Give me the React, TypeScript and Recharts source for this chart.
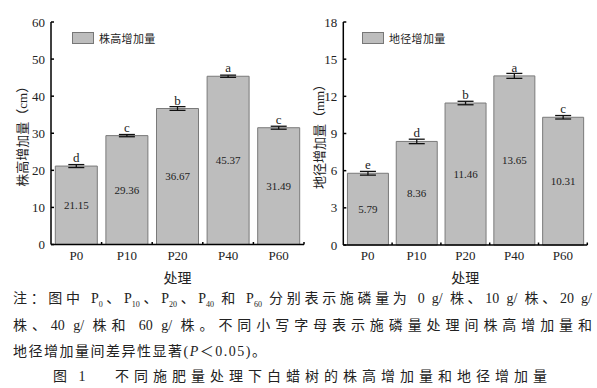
import { BarChart, Bar, XAxis, YAxis, ErrorBar, LabelList, Legend } from 'recharts';

const categories = ['P0', 'P10', 'P20', 'P40', 'P60'];
const heightGain = [21.15, 29.36, 36.67, 45.37, 31.49];
const heightErr = [0.4, 0.3, 0.5, 0.3, 0.4];
const heightSig = ['d', 'c', 'b', 'a', 'c'];
const diameterGain = [5.79, 8.36, 11.46, 13.65, 10.31];
const diameterErr = [0.15, 0.18, 0.14, 0.2, 0.14];
const diameterSig = ['e', 'd', 'b', 'a', 'c'];
const heightTicks = [0, 10, 20, 30, 40, 50, 60];
const diameterTicks = [0, 3, 6, 9, 12, 15, 18];

const heightData = categories.map((c, i) => ({ name: c, value: heightGain[i], err: heightErr[i], sig: heightSig[i] }));
const diameterData = categories.map((c, i) => ({ name: c, value: diameterGain[i], err: diameterErr[i], sig: diameterSig[i] }));

const SERIF = "'Liberation Serif', 'Times New Roman', 'Noto Sans CJK SC', serif";
const INK = '#222';

function XTick(props: any) {
  const { x, y, payload } = props;
  const axisY = y - 6;
  const bx = x + (payload.offset ?? 0);
  return (
    <g>
      <line x1={bx} y1={axisY} x2={bx} y2={axisY - 2.5} stroke="#000" strokeWidth={1.5} />
      <text x={x} y={y} dy="0.71em" textAnchor="middle" fontSize={13} fill={INK} fontFamily={SERIF}>
        {payload.value}
      </text>
    </g>
  );
}

function YTick(props: any) {
  const { x, y, payload } = props;
  const axisX = x + 6;
  return (
    <g>
      <line x1={axisX} y1={y} x2={axisX + 3} y2={y} stroke="#000" strokeWidth={1.5} />
      <text x={x} y={y} dy="0.355em" textAnchor="end" fontSize={13} fill={INK} fontFamily={SERIF}>
        {payload.value}
      </text>
    </g>
  );
}

function LegendBox({ payload }: any) {
  return (
    <div style={{ display: 'flex', alignItems: 'center' }}>
      {(payload || []).map((p: any) => (
        <div key={p.value} style={{ display: 'flex', alignItems: 'center' }}>
          <span style={{ display: 'inline-block', width: 20, height: 10, background: '#bdbdbd', border: '1px solid #777' }} />
          <span style={{ marginLeft: 5, fontSize: 11, color: INK, fontFamily: SERIF, letterSpacing: 0.3 }}>{p.value}</span>
        </div>
      ))}
    </div>
  );
}

interface PanelProps {
  data: typeof heightData;
  ticks: number[];
  max: number;
  yLabel: string;
  seriesName: string;
  width: number;
  margin: { top: number; right: number; bottom: number; left: number };
  legendLeft: number;
  labelOffset: number;
}

function Panel({ data, ticks, max, yLabel, seriesName, width, margin, legendLeft, labelOffset }: PanelProps) {
  return (
    <BarChart width={width} height={290} data={data} margin={margin} barCategoryGap="8.5%">
      <XAxis
        dataKey="name"
        height={38}
        tickLine={false}
        tickSize={4}
        tickMargin={2}
        axisLine={{ stroke: '#000', strokeWidth: 1.5 }}
        tick={<XTick />}
        label={{ value: '处理', position: 'insideBottom', offset: 0, fontSize: 14, fill: INK, fontFamily: SERIF }}
      />
      <YAxis
        type="number"
        domain={[0, max]}
        ticks={ticks}
        width={30}
        tickLine={false}
        tickSize={0}
        tickMargin={6}
        axisLine={{ stroke: '#000', strokeWidth: 1.5 }}
        tick={<YTick />}
        label={{
          value: yLabel,
          angle: -90,
          position: 'insideLeft',
          offset: labelOffset,
          fontSize: 13,
          fill: INK,
          fontFamily: SERIF,
          style: { textAnchor: 'middle' },
        }}
      />
      <Legend
        layout="horizontal"
        verticalAlign="middle"
        align="center"
        content={<LegendBox />}
        wrapperStyle={{ top: 30, left: legendLeft, width: 'auto' }}
      />
      <Bar dataKey="value" name={seriesName} fill="#bdbdbd" stroke="#7a7a7a" strokeWidth={1} isAnimationActive={false}>
        <ErrorBar dataKey="err" width={8} stroke="#111" strokeWidth={1.3} direction="y" />
        <LabelList dataKey="value" position="center" fontSize={11} fill={INK} fontFamily={SERIF} />
        <LabelList dataKey="sig" position="top" offset={4} fontSize={13} fill={INK} fontFamily={SERIF} />
      </Bar>
    </BarChart>
  );
}

const noteStyle: React.CSSProperties = {
  position: 'absolute',
  left: 13,
  width: 579,
  fontSize: 14,
  lineHeight: '20px',
  color: INK,
  fontFamily: SERIF,
  whiteSpace: 'nowrap',
};

const justified: React.CSSProperties = { textAlign: 'justify', textAlignLast: 'justify', whiteSpace: 'normal' };
const subStyle: React.CSSProperties = { fontSize: 8, color: INK };

export default function App() {
  return (
    <div style={{ position: 'absolute', left: 0, top: 0, width: 597, height: 388, background: '#fff', overflow: 'hidden' }}>
      <div style={{ position: 'absolute', left: 0, top: 0 }}>
        <Panel
          data={heightData}
          ticks={heightTicks}
          max={60}
          yLabel="株高增加量（cm）"
          seriesName="株高增加量"
          width={310}
          margin={{ top: 22, right: 6, bottom: 7.5, left: 21 }}
          legendLeft={72}
          labelOffset={1}
        />
      </div>
      <div style={{ position: 'absolute', left: 300, top: 0 }}>
        <Panel
          data={diameterData}
          ticks={diameterTicks}
          max={18}
          yLabel="地径增加量（mm）"
          seriesName="地径增加量"
          width={297}
          margin={{ top: 22, right: 9.7, bottom: 7, left: 13.3 }}
          legendLeft={62}
          labelOffset={6}
        />
      </div>
      <div style={{ ...noteStyle, ...justified, top: 289, height: 20 }}>
        注：图中 P<sub style={subStyle}>0</sub>、P<sub style={subStyle}>10</sub>、P<sub style={subStyle}>20</sub>、P<sub style={subStyle}>40</sub> 和 P<sub style={subStyle}>60</sub> 分别表示施磷量为 0 g/ 株、10 g/ 株、20 g/
      </div>
      <div style={{ ...noteStyle, ...justified, top: 316, height: 20 }}>
        株、40 g/ 株和 60 g/ 株。不同小写字母表示施磷量处理间株高增加量和
      </div>
      <div style={{ ...noteStyle, top: 342, letterSpacing: 1.5 }}>
        地径增加量间差异性显著(<i>P</i>＜0.05)。
      </div>
      <div style={{ ...noteStyle, left: 53, top: 367, fontSize: 14, letterSpacing: 4 }}>图 1</div>
      <div style={{ ...noteStyle, left: 115, top: 367, fontSize: 14, letterSpacing: 5 }}>
        不同施肥量处理下白蜡树的株高增加量和地径增加量
      </div>
    </div>
  );
}
